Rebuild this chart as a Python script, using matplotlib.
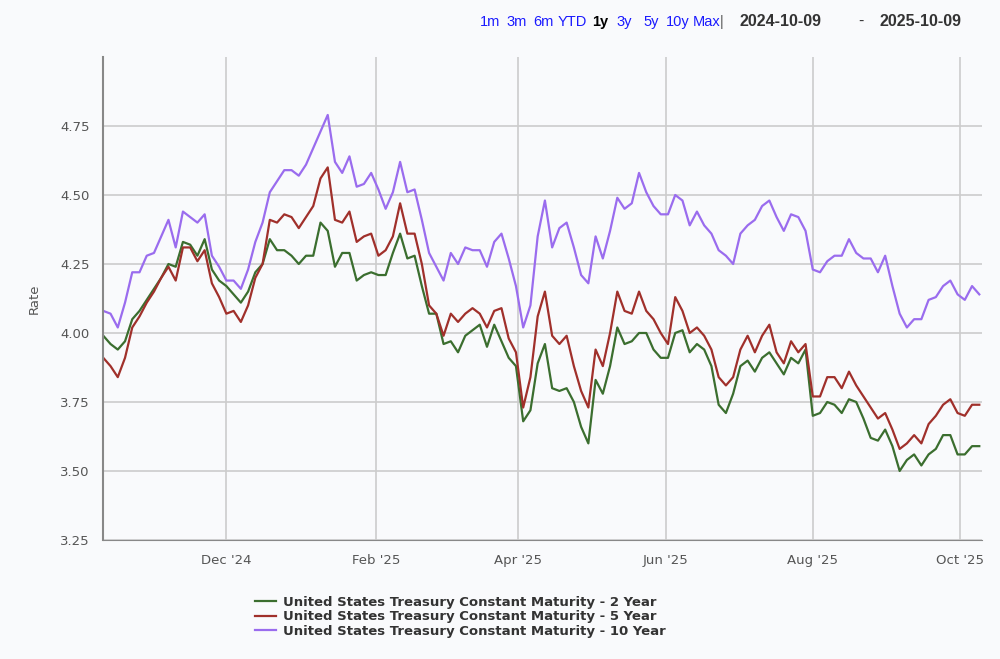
import matplotlib.pyplot as plt
import matplotlib.dates as mdates
import pandas as pd

# datoer, ett punkt hver tredje dag
datoer = pd.date_range("2024-10-11", periods=122, freq="3D")

# 2 aars rente
rente_2y = [3.99, 3.96, 3.94, 3.97, 4.05, 4.08, 4.12, 4.16, 4.20, 4.25,
            4.24, 4.33, 4.32, 4.28, 4.34, 4.23, 4.19, 4.17, 4.14, 4.11,
            4.15, 4.22, 4.25, 4.34, 4.30, 4.30, 4.28, 4.25, 4.28, 4.28,
            4.40, 4.37, 4.24, 4.29, 4.29, 4.19, 4.21, 4.22, 4.21, 4.21,
            4.29, 4.36, 4.27, 4.28, 4.17, 4.07, 4.07, 3.96, 3.97, 3.93,
            3.99, 4.01, 4.03, 3.95, 4.03, 3.97, 3.91, 3.88, 3.68, 3.72,
            3.89, 3.96, 3.80, 3.79, 3.80, 3.75, 3.66, 3.60, 3.83, 3.78,
            3.88, 4.02, 3.96, 3.97, 4.00, 4.00, 3.94, 3.91, 3.91, 4.00,
            4.01, 3.93, 3.96, 3.94, 3.88, 3.74, 3.71, 3.78, 3.88, 3.90,
            3.86, 3.91, 3.93, 3.89, 3.85, 3.91, 3.89, 3.94, 3.70, 3.71,
            3.75, 3.74, 3.71, 3.76, 3.75, 3.69, 3.62, 3.61, 3.65, 3.59,
            3.50, 3.54, 3.56, 3.52, 3.56, 3.58, 3.63, 3.63, 3.56, 3.56,
            3.59, 3.59]

# 5 aars rente
rente_5y = [3.91, 3.88, 3.84, 3.91, 4.02, 4.06, 4.11, 4.15, 4.20, 4.24,
            4.19, 4.31, 4.31, 4.26, 4.30, 4.18, 4.13, 4.07, 4.08, 4.04,
            4.10, 4.20, 4.25, 4.41, 4.40, 4.43, 4.42, 4.38, 4.42, 4.46,
            4.56, 4.60, 4.41, 4.40, 4.44, 4.33, 4.35, 4.36, 4.28, 4.30,
            4.35, 4.47, 4.36, 4.36, 4.25, 4.10, 4.07, 3.99, 4.07, 4.04,
            4.07, 4.09, 4.07, 4.02, 4.08, 4.09, 3.98, 3.93, 3.73, 3.84,
            4.06, 4.15, 3.99, 3.96, 3.99, 3.88, 3.79, 3.73, 3.94, 3.88,
            4.00, 4.15, 4.08, 4.07, 4.15, 4.08, 4.05, 4.00, 3.96, 4.13,
            4.08, 4.00, 4.02, 3.99, 3.94, 3.84, 3.81, 3.84, 3.94, 3.99,
            3.93, 3.99, 4.03, 3.93, 3.89, 3.97, 3.93, 3.96, 3.77, 3.77,
            3.84, 3.84, 3.80, 3.86, 3.81, 3.77, 3.73, 3.69, 3.71, 3.65,
            3.58, 3.60, 3.63, 3.60, 3.67, 3.70, 3.74, 3.76, 3.71, 3.70,
            3.74, 3.74]

# 10 aars rente
rente_10y = [4.08, 4.07, 4.02, 4.11, 4.22, 4.22, 4.28, 4.29, 4.35, 4.41,
             4.31, 4.44, 4.42, 4.40, 4.43, 4.28, 4.24, 4.19, 4.19, 4.16,
             4.23, 4.33, 4.40, 4.51, 4.55, 4.59, 4.59, 4.57, 4.61, 4.67,
             4.73, 4.79, 4.62, 4.58, 4.64, 4.53, 4.54, 4.58, 4.52, 4.45,
             4.51, 4.62, 4.51, 4.52, 4.41, 4.29, 4.24, 4.19, 4.29, 4.25,
             4.31, 4.30, 4.30, 4.24, 4.33, 4.36, 4.27, 4.17, 4.02, 4.10,
             4.35, 4.48, 4.31, 4.38, 4.40, 4.31, 4.21, 4.18, 4.35, 4.27,
             4.37, 4.49, 4.45, 4.47, 4.58, 4.51, 4.46, 4.43, 4.43, 4.50,
             4.48, 4.39, 4.44, 4.39, 4.36, 4.30, 4.28, 4.25, 4.36, 4.39,
             4.41, 4.46, 4.48, 4.42, 4.37, 4.43, 4.42, 4.37, 4.23, 4.22,
             4.26, 4.28, 4.28, 4.34, 4.29, 4.27, 4.27, 4.22, 4.28, 4.17,
             4.07, 4.02, 4.05, 4.05, 4.12, 4.13, 4.17, 4.19, 4.14, 4.12,
             4.17, 4.14]

navn = ["United States Treasury Constant Maturity - 2 Year",
        "United States Treasury Constant Maturity - 5 Year",
        "United States Treasury Constant Maturity - 10 Year"]
farger = ["#3b6e2f", "#a0302b", "#9a6cee"]

bg = "#f9fafc"
fig = plt.figure(figsize=(10, 6.59), dpi=100, facecolor=bg)
ax = fig.add_axes([0.1033, 0.1806, 0.8784, 0.7329], facecolor=bg)

for y, n, c in zip([rente_2y, rente_5y, rente_10y], navn, farger):
    ax.plot(datoer, y, color=c, lw=1.6, label=n)

ax.set_xlim(pd.Timestamp("2024-10-11"), pd.Timestamp("2025-10-10"))
ax.set_ylim(3.25, 5.0)
ax.set_yticks([3.25, 3.50, 3.75, 4.00, 4.25, 4.50, 4.75])
ax.yaxis.set_major_formatter(plt.FormatStrFormatter("%.2f"))
ax.xaxis.set_major_locator(mdates.MonthLocator(bymonth=[12, 2, 4, 6, 8, 10]))
ax.xaxis.set_major_formatter(mdates.DateFormatter("%b '%y"))

ax.grid(True, color="#cccccc", lw=1.2)
ax.set_axisbelow(True)
for s in ["top", "right"]:
    ax.spines[s].set_visible(False)
ax.spines["left"].set_color("#888888")
ax.spines["left"].set_linewidth(1.5)
ax.spines["bottom"].set_color("#888888")
ax.tick_params(length=0, labelsize=9.5, labelcolor="#555555", pad=10)
ax.set_ylabel("Rate", fontsize=9.5, color="#555555", labelpad=14)

# legende under grafen
fig.legend(loc="upper left", bbox_to_anchor=(0.243, 0.114), frameon=False,
           handlelength=1.6, labelspacing=0.12, handletextpad=0.5,
           prop={"weight": "bold", "size": 9.5}, labelcolor="#333333")

# knapper og datoer oppe til hoyre
knapper = [("1m", 0.480), ("3m", 0.506), ("6m", 0.533), ("YTD", 0.558),
           ("1y", 0.592), ("3y", 0.616), ("5y", 0.643), ("10y", 0.666),
           ("Max", 0.693)]
topp = dict(family="Liberation Sans", va="center")
for tekst, x in knapper:
    farge = "black" if tekst == "1y" else "#1a1aff"
    vekt = "bold" if tekst == "1y" else "normal"
    fig.text(x, 0.967, tekst, color=farge, weight=vekt, fontsize=10.5, **topp)
fig.text(0.720, 0.967, "|", color="#555555", fontsize=10.5, **topp)
fig.text(0.740, 0.967, "2024-10-09", color="#333333", weight="bold",
         fontsize=11.5, **topp)
fig.text(0.858, 0.967, "-", color="#333333", fontsize=11.5, **topp)
fig.text(0.880, 0.967, "2025-10-09", color="#333333", weight="bold",
         fontsize=11.5, **topp)

plt.savefig("out.png", dpi=100, facecolor=bg)
